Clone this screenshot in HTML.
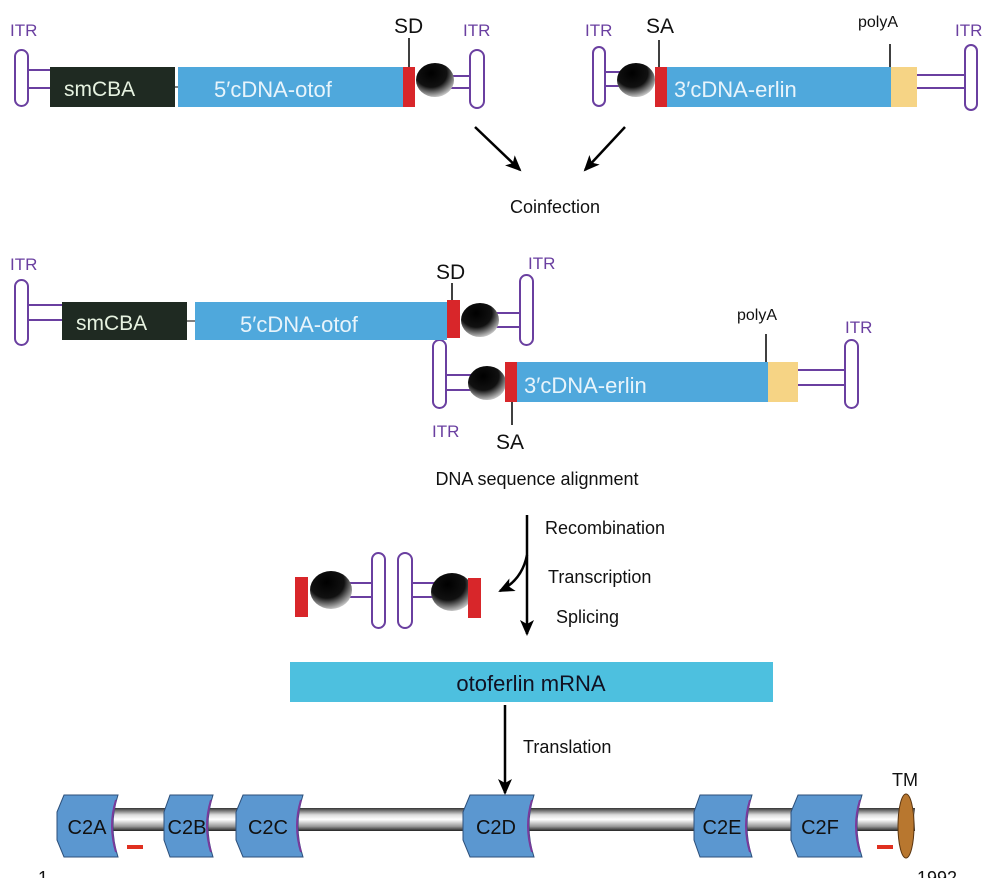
<!DOCTYPE html>
<html><head><meta charset="utf-8"><style>
html,body{margin:0;padding:0;background:#fff;}
svg{display:block;}
text{font-family:"Liberation Sans",sans-serif;}
</style></head><body>
<svg width="1004" height="878" viewBox="0 0 1004 878" xmlns="http://www.w3.org/2000/svg">
<defs>
<radialGradient id="ball" cx="0.4" cy="0.3" r="0.75">
<stop offset="0" stop-color="#000"/><stop offset="0.55" stop-color="#111"/><stop offset="1" stop-color="#ddd"/>
</radialGradient>
<linearGradient id="rod" x1="0" y1="0" x2="0" y2="1">
<stop offset="0" stop-color="#333"/><stop offset="0.3" stop-color="#ddd"/><stop offset="0.5" stop-color="#fff"/><stop offset="0.8" stop-color="#999"/><stop offset="1" stop-color="#222"/>
</linearGradient>
<marker id="ah" markerWidth="16" markerHeight="14" refX="14" refY="7" orient="auto" markerUnits="userSpaceOnUse">
<path d="M0,0 L16,7 L0,14 L4,7 Z" fill="#000"/></marker>
</defs>
<g fill="none" stroke="#6a3fa0" stroke-width="2">
<rect x="15" y="50" width="13" height="56" rx="6.5"/><line x1="28" y1="70" x2="50" y2="70"/><line x1="28" y1="88" x2="50" y2="88"/>
<rect x="470" y="50" width="14" height="58" rx="7"/><line x1="450" y1="76" x2="470" y2="76"/><line x1="450" y1="88" x2="470" y2="88"/>
<rect x="593" y="47" width="12" height="59" rx="6"/><line x1="605" y1="72" x2="625" y2="72"/><line x1="605" y1="86" x2="625" y2="86"/>
<rect x="965" y="45" width="12" height="65" rx="6"/><line x1="917" y1="75" x2="965" y2="75"/><line x1="917" y1="88" x2="965" y2="88"/>
<rect x="15" y="280" width="13" height="65" rx="6.5"/><line x1="28" y1="305" x2="62" y2="305"/><line x1="28" y1="320" x2="62" y2="320"/>
<rect x="520" y="275" width="13" height="70" rx="6.5"/><line x1="495" y1="313" x2="520" y2="313"/><line x1="495" y1="327" x2="520" y2="327"/>
<rect x="433" y="340" width="13" height="68" rx="6.5"/><line x1="446" y1="375" x2="475" y2="375"/><line x1="446" y1="390" x2="475" y2="390"/>
<rect x="845" y="340" width="13" height="68" rx="6.5"/><line x1="798" y1="370" x2="845" y2="370"/><line x1="798" y1="385" x2="845" y2="385"/>
<line x1="350" y1="583" x2="372" y2="583"/><line x1="350" y1="597" x2="372" y2="597"/>
<rect x="372" y="553" width="13" height="75" rx="6.5"/><rect x="398" y="553" width="14" height="75" rx="7"/>
<line x1="412" y1="583" x2="435" y2="583"/><line x1="412" y1="597" x2="435" y2="597"/>
</g>
<rect x="50" y="67" width="125" height="40" fill="#1f2a22"/>
<line x1="175" y1="87" x2="178" y2="87" stroke="#000"/>
<rect x="178" y="67" width="225" height="40" fill="#4fa8dc"/>
<rect x="403" y="67" width="12" height="40" fill="#d8262a"/>
<ellipse cx="435" cy="80" rx="19" ry="17" fill="url(#ball)"/>
<line x1="409" y1="38" x2="409" y2="67" stroke="#000" stroke-width="1.5"/>
<text x="64" y="96" font-size="21" fill="#e6f2e0">smCBA</text>
<text x="214" y="97" font-size="22" fill="#e8f4fb">5′cDNA-otof</text>
<text x="394" y="33" font-size="21" fill="#111">SD</text>
<text x="10" y="36" font-size="17" fill="#6a3fa0">ITR</text>
<text x="463" y="36" font-size="17" fill="#6a3fa0">ITR</text>
<ellipse cx="636" cy="80" rx="19" ry="17" fill="url(#ball)"/>
<rect x="655" y="67" width="12" height="40" fill="#d8262a"/>
<rect x="667" y="67" width="224" height="40" fill="#4fa8dc"/>
<rect x="891" y="67" width="26" height="40" fill="#f6d485"/>
<line x1="659" y1="40" x2="659" y2="67" stroke="#000" stroke-width="1.5"/>
<line x1="890" y1="44" x2="890" y2="67" stroke="#000" stroke-width="1.5"/>
<text x="674" y="97" font-size="22" fill="#e8f4fb">3′cDNA-erlin</text>
<text x="646" y="33" font-size="21" fill="#111">SA</text>
<text x="858" y="27" font-size="16" fill="#111">polyA</text>
<text x="585" y="36" font-size="17" fill="#6a3fa0">ITR</text>
<text x="955" y="36" font-size="17" fill="#6a3fa0">ITR</text>
<line x1="475" y1="127" x2="520" y2="170" stroke="#000" stroke-width="2.5" marker-end="url(#ah)"/>
<line x1="625" y1="127" x2="585" y2="170" stroke="#000" stroke-width="2.5" marker-end="url(#ah)"/>
<text x="555" y="213" font-size="18" fill="#111" text-anchor="middle">Coinfection</text>
<rect x="62" y="302" width="125" height="38" fill="#1f2a22"/>
<line x1="187" y1="321" x2="195" y2="321" stroke="#000"/>
<rect x="195" y="302" width="252" height="38" fill="#4fa8dc"/>
<rect x="447" y="300" width="13" height="38" fill="#d8262a"/>
<ellipse cx="480" cy="320" rx="19" ry="17" fill="url(#ball)"/>
<line x1="452" y1="283" x2="452" y2="300" stroke="#000" stroke-width="1.5"/>
<text x="76" y="330" font-size="21" fill="#e6f2e0">smCBA</text>
<text x="240" y="332" font-size="22" fill="#e8f4fb">5′cDNA-otof</text>
<text x="436" y="279" font-size="21" fill="#111">SD</text>
<text x="10" y="270" font-size="17" fill="#6a3fa0">ITR</text>
<text x="528" y="269" font-size="17" fill="#6a3fa0">ITR</text>
<ellipse cx="487" cy="383" rx="19" ry="17" fill="url(#ball)"/>
<rect x="505" y="362" width="12" height="40" fill="#d8262a"/>
<rect x="517" y="362" width="251" height="40" fill="#4fa8dc"/>
<rect x="768" y="362" width="30" height="40" fill="#f6d485"/>
<line x1="512" y1="402" x2="512" y2="425" stroke="#000" stroke-width="1.5"/>
<line x1="766" y1="334" x2="766" y2="362" stroke="#000" stroke-width="1.5"/>
<text x="524" y="393" font-size="22" fill="#e8f4fb">3′cDNA-erlin</text>
<text x="496" y="449" font-size="21" fill="#111">SA</text>
<text x="737" y="320" font-size="16" fill="#111">polyA</text>
<text x="432" y="437" font-size="17" fill="#6a3fa0">ITR</text>
<text x="845" y="333" font-size="17" fill="#6a3fa0">ITR</text>
<text x="537" y="485" font-size="18" fill="#111" text-anchor="middle">DNA sequence alignment</text>
<line x1="527" y1="515" x2="527" y2="634" stroke="#000" stroke-width="2.5" marker-end="url(#ah)"/>
<path d="M527,555 Q522,580 500,591" fill="none" stroke="#000" stroke-width="2.5" marker-end="url(#ah)"/>
<text x="545" y="534" font-size="18" fill="#111">Recombination</text>
<text x="548" y="583" font-size="18" fill="#111">Transcription</text>
<text x="556" y="623" font-size="18" fill="#111">Splicing</text>
<rect x="295" y="577" width="13" height="40" fill="#d8262a"/>
<ellipse cx="331" cy="590" rx="21" ry="19" fill="url(#ball)"/>
<ellipse cx="452" cy="592" rx="21" ry="19" fill="url(#ball)"/>
<rect x="468" y="578" width="13" height="40" fill="#d8262a"/>
<rect x="290" y="662" width="483" height="40" fill="#4dc0df"/>
<text x="531" y="691" font-size="22" fill="#112" text-anchor="middle">otoferlin mRNA</text>
<line x1="505" y1="705" x2="505" y2="793" stroke="#000" stroke-width="2.5" marker-end="url(#ah)"/>
<text x="523" y="753" font-size="18" fill="#111">Translation</text>
<rect x="70" y="808" width="845" height="23" fill="url(#rod)"/>
<g fill="#5b97d0" stroke="#2c4f7a" stroke-width="1">
<path d="M64,795 L118,795 Q108,826 118,857 L64,857 L57,840 L57,812 Z"/>
<path d="M170,795 L213,795 Q203,826 213,857 L170,857 L164,840 L164,812 Z"/>
<path d="M243,795 L303,795 Q293,826 303,857 L243,857 L236,840 L236,812 Z"/>
<path d="M470,795 L534,795 Q524,826 534,857 L470,857 L463,840 L463,812 Z"/>
<path d="M700,795 L752,795 Q742,826 752,857 L700,857 L694,840 L694,812 Z"/>
<path d="M798,795 L862,795 Q852,826 862,857 L798,857 L791,840 L791,812 Z"/>
</g>
<g fill="none" stroke="#7a3a9a" stroke-width="2">
<path d="M116,800 Q108,826 116,852"/><path d="M211,800 Q203,826 211,852"/><path d="M301,800 Q293,826 301,852"/>
<path d="M532,800 Q524,826 532,852"/><path d="M750,800 Q742,826 750,852"/><path d="M860,800 Q852,826 860,852"/>
</g>
<ellipse cx="906" cy="826" rx="8" ry="32" fill="#b8772f" stroke="#5a3510"/>
<rect x="127" y="845" width="16" height="4" fill="#e03020"/>
<rect x="877" y="845" width="16" height="4" fill="#e03020"/>
<g font-size="20" fill="#111" text-anchor="middle">
<text x="87" y="834">C2A</text><text x="187" y="834">C2B</text><text x="268" y="834">C2C</text>
<text x="496" y="834">C2D</text><text x="722" y="834">C2E</text><text x="820" y="834">C2F</text>
</g>
<text x="905" y="786" font-size="18" fill="#111" text-anchor="middle">TM</text>
<text x="38" y="884" font-size="18" fill="#111">1</text>
<text x="917" y="884" font-size="18" fill="#111">1992</text>
</svg>
</body></html>
